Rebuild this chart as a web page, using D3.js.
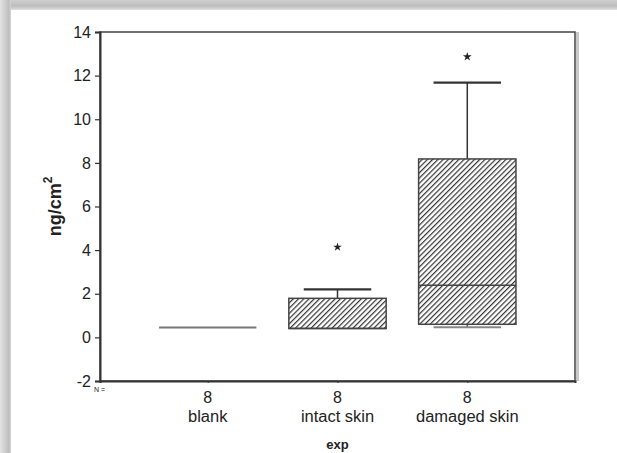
<!DOCTYPE html>
<html><head><meta charset="utf-8">
<script src="https://cdn.jsdelivr.net/npm/d3@7"></script>
<style>body{margin:0;background:#fff}svg{display:block}text{font-family:"Liberation Sans",Arial,sans-serif;fill:#222}</style>
</head><body>
<script>
const categories = ["blank", "intact skin", "damaged skin"];
const counts = [8, 8, 8];
const q1 = [0.45, 0.41, 0.60];
const median = [0.45, 0.41, 2.39];
const q3 = [0.45, 1.79, 8.18];
const whiskerLow = [0.45, 0.41, 0.46];
const whiskerHigh = [0.45, 2.20, 11.68];
const outliers = [[], [4.14], [12.87]];
const yTicks = [-2, 0, 2, 4, 6, 8, 10, 12, 14];

const W = 617, H = 453;
const L = 100, R = 575, T = 32, B = 381;
const svg = d3.select("body").append("svg").attr("width", W).attr("height", H);
const defs = svg.append("defs");

// shadow gradients
const gt = defs.append("linearGradient").attr("id","gt").attr("x1",0).attr("y1",0).attr("x2",0).attr("y2",1);
gt.append("stop").attr("offset",0).attr("stop-color","#cfcfcf");
gt.append("stop").attr("offset",0.6).attr("stop-color","#bdbdbd");
gt.append("stop").attr("offset",1).attr("stop-color","#e0e0e0");
const gl = defs.append("linearGradient").attr("id","gl").attr("x1",0).attr("y1",0).attr("x2",1).attr("y2",0);
gl.append("stop").attr("offset",0).attr("stop-color","#e4e4e4");
gl.append("stop").attr("offset",0.8).attr("stop-color","#bebebe");
gl.append("stop").attr("offset",1).attr("stop-color","#d4d4d4");
svg.append("rect").attr("x",0).attr("y",0).attr("width",W).attr("height",10).attr("fill","url(#gt)");
svg.append("rect").attr("x",0).attr("y",0).attr("width",11).attr("height",H).attr("fill","url(#gl)");

// hatch pattern
const pat = defs.append("pattern").attr("id","hatch").attr("patternUnits","userSpaceOnUse")
  .attr("width",3.7).attr("height",3.7).attr("patternTransform","rotate(45)");
pat.append("rect").attr("width",3.7).attr("height",3.7).attr("fill","#fff");
pat.append("line").attr("x1",0.6).attr("y1",0).attr("x2",0.6).attr("y2",3.7).attr("stroke","#333").attr("stroke-width",1.2);

const x = d3.scalePoint().domain(categories).range([L, R]).padding(0.83);
const y = d3.scaleLinear().domain([-2, 14]).range([B, T]);
const step = x.step();
const bw = step * 0.75, cw = step * 0.52;

// right frame shadow
svg.append("rect").attr("x",R+1).attr("y",T).attr("width",3).attr("height",B-T).attr("fill","#c8c8c8");

// frame
svg.append("rect").attr("x",L).attr("y",T).attr("width",R-L).attr("height",B-T)
  .attr("fill","none").attr("stroke","#444").attr("stroke-width",1.5);

// y axis
const ya = svg.append("g").attr("transform",`translate(${L},0)`)
  .call(d3.axisLeft(y).tickValues(yTicks).tickSize(5).tickPadding(4).tickFormat(d => String(d)));
ya.select(".domain").attr("stroke","#333").attr("stroke-width",2);
ya.selectAll(".tick line").attr("stroke","#333").attr("stroke-width",1.2);
ya.selectAll(".tick text").attr("font-size",16).attr("fill","#222")
  .attr("font-family","Liberation Sans, Arial, sans-serif");

// x axis ticks
const xa = svg.append("g").attr("transform",`translate(0,${B})`)
  .call(d3.axisBottom(x).tickSize(2).tickFormat(""));
xa.select(".domain").attr("stroke","#333").attr("stroke-width",2);
xa.selectAll(".tick line").attr("stroke","#333");

// boxes
categories.forEach((c, i) => {
  const cx = x(c);
  const g = svg.append("g");
  const flat = q3[i] === q1[i];
  if (whiskerHigh[i] > q3[i]) {
    g.append("line").attr("x1",cx).attr("x2",cx).attr("y1",y(q3[i])).attr("y2",y(whiskerHigh[i])).attr("stroke","#333").attr("stroke-width",1.5);
    g.append("line").attr("x1",cx-cw/2).attr("x2",cx+cw/2).attr("y1",y(whiskerHigh[i])).attr("y2",y(whiskerHigh[i])).attr("stroke","#333").attr("stroke-width",2.2);
  }
  if (whiskerLow[i] < q1[i]) {
    g.append("line").attr("x1",cx).attr("x2",cx).attr("y1",y(q1[i])).attr("y2",y(whiskerLow[i])).attr("stroke","#555").attr("stroke-width",1.5);
    g.append("line").attr("x1",cx-cw/2).attr("x2",cx+cw/2).attr("y1",y(whiskerLow[i])).attr("y2",y(whiskerLow[i])).attr("stroke","#888").attr("stroke-width",2);
  }
  if (flat) {
    g.append("line").attr("x1",cx-bw/2).attr("x2",cx+bw/2).attr("y1",y(median[i])).attr("y2",y(median[i]))
      .attr("stroke","#777").attr("stroke-width",2);
  } else {
    g.append("rect").attr("x",cx-bw/2).attr("y",y(q3[i])).attr("width",bw).attr("height",y(q1[i])-y(q3[i]))
      .attr("fill","url(#hatch)").attr("stroke","#444").attr("stroke-width",1.5);
    g.append("line").attr("x1",cx-bw/2).attr("x2",cx+bw/2).attr("y1",y(median[i])).attr("y2",y(median[i]))
      .attr("stroke","#444").attr("stroke-width",1.5);
  }
  outliers[i].forEach(v => {
    g.append("path").attr("d", d3.symbol(d3.symbolStar, 24)())
      .attr("transform",`translate(${cx},${y(v)})`).attr("fill","#222");
  });
  svg.append("text").attr("transform",`translate(${cx},${B+22})`)
    .attr("text-anchor","middle").attr("font-size",16).text(counts[i]);
  svg.append("text").attr("transform",`translate(${cx},${B+41}) scale(1.03,1)`)
    .attr("text-anchor","middle").attr("font-size",16).text(c);
});

svg.append("text").attr("x",L-6).attr("y",B+11).attr("font-size",7).attr("fill","#444").text("N =");
svg.append("text").attr("transform",`translate(${x(categories[1])},${B+68})`)
  .attr("text-anchor","middle").attr("font-size",13).attr("font-weight","bold").text("exp");

// y label
const yl = svg.append("text").attr("transform",`translate(61,${(T+B)/2}) rotate(-90)`)
  .attr("text-anchor","middle").attr("font-size",18).attr("font-weight","bold");
yl.append("tspan").text("ng/cm");
yl.append("tspan").attr("font-size",12).attr("dy",-9).text("2");
</script>
</body></html>
